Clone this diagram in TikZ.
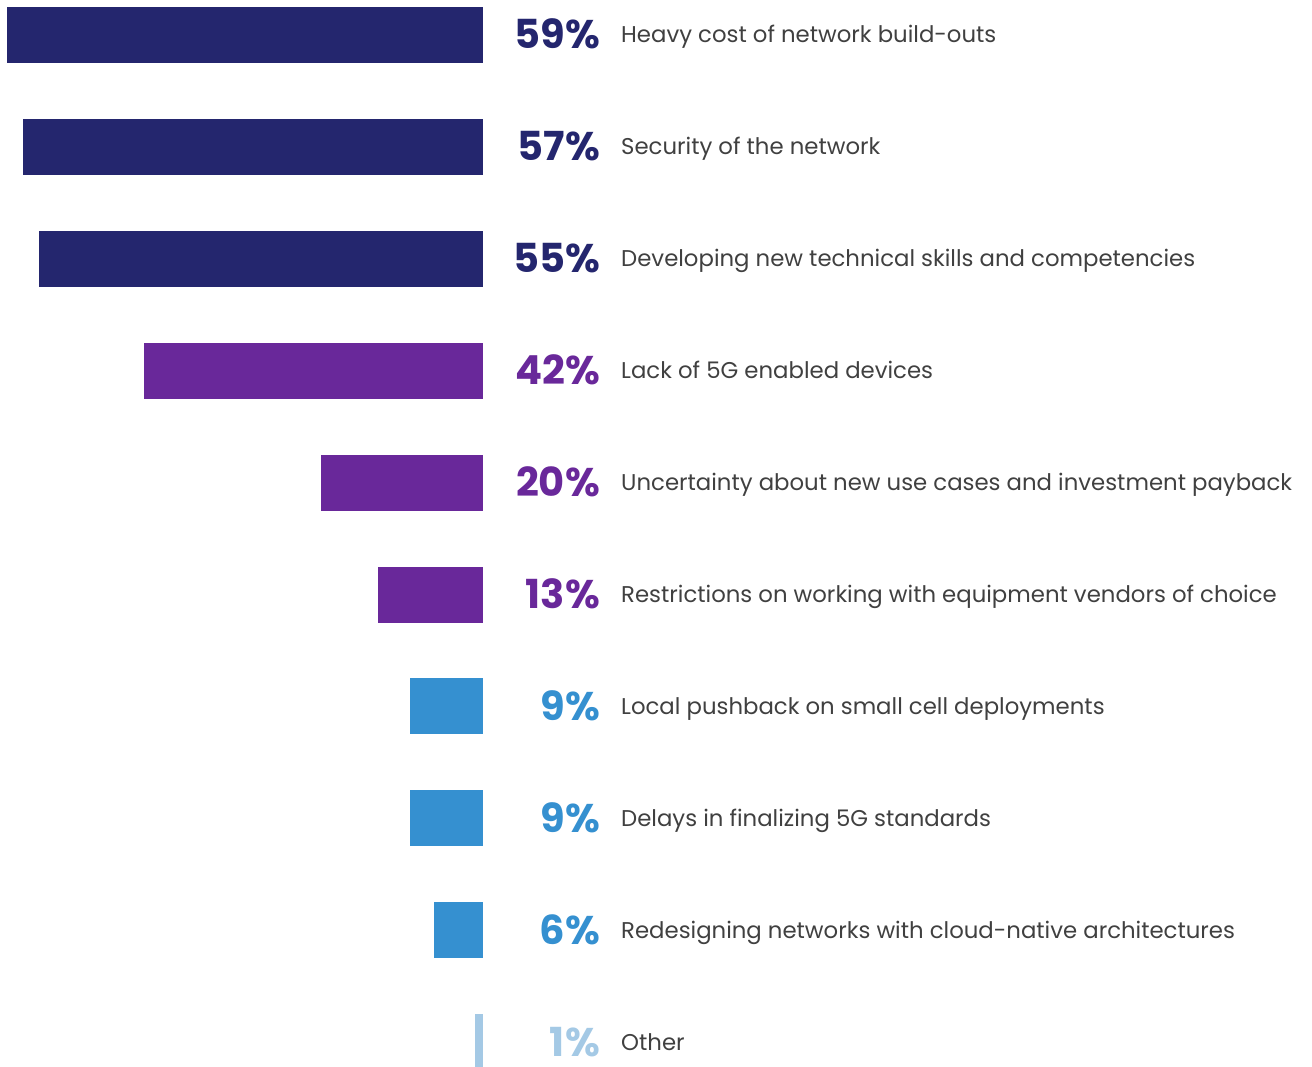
\documentclass[tikz,border=0pt]{standalone}
\usepackage{fontspec}
\setmainfont{Poppins}
\usepackage{tikz}
\usetikzlibrary{positioning}
\definecolor{navy}{HTML}{24266E}
\definecolor{plum}{HTML}{69289A}
\definecolor{sky}{HTML}{3590D0}
\definecolor{pale}{HTML}{A4C9E5}
\definecolor{txt}{HTML}{404040}
\tikzstyle{bar}=[rectangle,inner sep=0pt,minimum height=56pt,anchor=east]
\tikzstyle{pct}=[inner sep=0pt,text depth=0pt,anchor=base east,font=\fontsize{40}{42}\selectfont\bfseries]
\tikzstyle{lbl}=[inner sep=0pt,anchor=base west,text=txt,font=\fontsize{22.8}{26}\selectfont]

\begin{document}
\begin{tikzpicture}[x=1pt,y=-1pt]
    \useasboundingbox (0,0) rectangle (1312,1067);
    % bars, values and labels, one row each
    \foreach \v/\c/\t [count=\i] in {59/navy/Heavy cost of network build-outs,
        57/navy/Security of the network,
        55/navy/Developing new technical skills and competencies,
        42/plum/Lack of 5G enabled devices,
        20/plum/Uncertainty about new use cases and investment payback,
        13/plum/Restrictions on working with equipment vendors of choice,
        9/sky/Local pushback on small cell deployments,
        9/sky/Delays in finalizing 5G standards,
        6/sky/Redesigning networks with cloud-native architectures,
        1/pale/Other}
    {
        \pgfmathsetmacro{\y}{35+111.9*(\i-1)}
        \node[bar,fill=\c,minimum width=\v*8.07pt] (bar\i) at (483,\y) {};
        \node[pct,text=\c] (pct\i) at (600,\y+14) {\v\%};
        \node[lbl] (lbl\i) at (621,\y+8) {\t};
    }
\end{tikzpicture}
\end{document}
